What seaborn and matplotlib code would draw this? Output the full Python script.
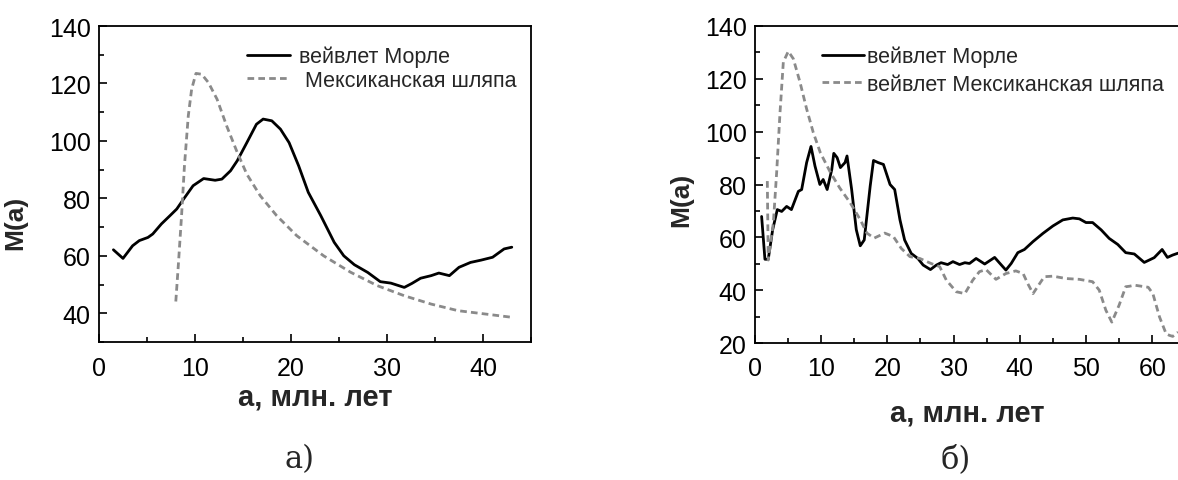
import numpy as np
import pandas as pd
import matplotlib
matplotlib.use("Agg")
import matplotlib.pyplot as plt
from matplotlib.ticker import MultipleLocator
import seaborn as sns

# ---- data: left panel (а) ----
a_morlet_x = [1.5, 2.5, 3.5, 4.2, 5.1, 5.6, 6.5, 7.4, 8.1, 8.8, 9.8, 10.9, 12.1, 12.8, 13.7,
              14.4, 15.4, 16.4, 17.1, 18.0, 18.9, 19.8, 20.8, 21.8, 23.1, 24.5, 25.5, 26.6,
              28.0, 29.3, 30.4, 31.8, 32.6, 33.5, 34.6, 35.4, 36.5, 37.5, 38.7, 39.8, 41.0,
              42.2, 43.0]
a_morlet_y = [62.1, 59.1, 63.5, 65.3, 66.4, 67.6, 71.1, 74.0, 76.3, 79.7, 84.4, 86.9, 86.3,
              86.7, 89.6, 93.1, 99.4, 105.8, 107.6, 107.0, 104.1, 99.4, 91.3, 82.1, 74.0,
              64.7, 60.0, 56.9, 54.2, 51.0, 50.5, 49.0, 50.4, 52.2, 53.1, 54.0, 53.1, 56.0,
              57.7, 58.5, 59.5, 62.4, 63.0]
a_mhat_x = [8.0, 8.26, 8.6, 8.9, 9.3, 9.65, 10.1, 10.7, 11.4, 12.3, 13.3, 14.4, 15.4, 16.8,
            18.5, 20.6, 23.4, 26.2, 29.0, 31.8, 34.6, 37.4, 40.1, 43.0]
a_mhat_y = [44.1, 56.6, 74.0, 91.3, 108.7, 118.0, 123.5, 123.2, 120.3, 114.5, 105.2, 96.0,
            88.4, 80.9, 74.0, 67.0, 60.0, 54.3, 49.6, 46.1, 43.2, 40.9, 39.8, 38.6]

# ---- data: right panel (б) ----
b_morlet_x = [1.0, 1.5, 2.0, 2.67, 3.37, 4.03, 4.78, 5.5, 6.55, 7.05, 7.8, 8.46, 9.06, 9.8,
              10.3, 10.9, 11.6, 11.9, 12.4, 12.9, 13.6, 13.9, 14.6, 15.3, 15.9, 16.5, 17.4,
              17.9, 18.6, 19.4, 20.4, 21.1, 21.9, 22.6, 23.6, 24.6, 25.4, 26.5, 27.4, 28.1,
              29.1, 29.9, 30.9, 31.7, 32.4, 33.4, 34.7, 36.2, 36.9, 37.9, 38.7, 39.7, 40.7,
              42.0, 43.5, 45.0, 46.5, 48.0, 49.0, 50.0, 51.0, 52.3, 53.5, 54.8, 56.0, 57.3,
              58.8, 60.3, 61.5, 62.3, 63.1, 63.9]
b_morlet_y = [67.9, 51.7, 51.7, 62.9, 70.5, 69.8, 71.7, 70.5, 77.4, 78.1, 88.3, 94.4, 87.0,
              80.0, 81.9, 78.1, 85.7, 91.8, 90.2, 86.4, 88.3, 90.8, 78.1, 62.9, 56.8, 59.0,
              79.4, 89.1, 88.3, 87.6, 80.0, 78.1, 66.6, 59.0, 53.9, 52.0, 49.5, 47.8, 49.5,
              50.4, 49.7, 50.8, 49.7, 50.4, 50.1, 52.0, 49.9, 52.4, 50.4, 47.6, 50.1, 54.2,
              55.4, 58.4, 61.5, 64.3, 66.6, 67.3, 67.0, 65.6, 65.6, 62.8, 59.6, 57.3, 54.2,
              53.7, 50.5, 52.3, 55.4, 52.4, 53.3, 54.0]
b_mhat_x = [1.86, 2.0, 2.77, 3.27, 3.78, 4.28, 5.03, 5.79, 6.8, 7.8, 8.8, 9.86, 11.4, 12.8,
            14.4, 15.9, 16.9, 18.0, 19.6, 20.9, 22.1, 23.4, 24.9, 26.6, 27.9, 28.9, 30.4,
            31.7, 32.9, 33.9, 34.9, 36.4, 37.9, 39.4, 40.5, 41.2, 42.0, 43.0, 43.7, 45.0,
            47.0, 49.0, 51.0, 52.0, 53.0, 53.9, 55.0, 56.0, 56.6, 57.3, 59.4, 60.1, 61.1,
            62.1, 62.6, 63.1, 63.9]
b_mhat_y = [81.3, 51.4, 65.4, 84.5, 107.3, 126.4, 130.4, 127.6, 118.7, 108.6, 99.7, 92.1,
            84.5, 78.7, 73.0, 66.7, 61.6, 59.7, 61.6, 60.3, 55.8, 52.7, 52.0, 50.1, 48.9,
            43.8, 39.4, 38.7, 43.8, 47.0, 47.8, 44.1, 46.3, 47.3, 46.3, 42.5, 38.7, 42.5,
            45.1, 45.3, 44.4, 44.1, 43.2, 40.0, 32.4, 27.9, 34.3, 41.3, 41.5, 41.9, 41.1,
            38.7, 29.9, 23.5, 22.9, 22.5, 24.1]

label_morlet = "вейвлет Морле"
label_mhat_a = " Мексиканская шляпа"
label_mhat_b = "вейвлет Мексиканская шляпа"
xlabel = "a, млн. лет"
ylabel = "M(a)"
captions = ["а)", "б)"]

sns.set_theme(style="white")
plt.rcParams["font.family"] = ["Liberation Sans", "DejaVu Sans"]

W, H = 1178, 481
fig = plt.figure(figsize=(W / 100, H / 100), dpi=100)

def px_axes(l, r, t, b):
    return fig.add_axes([l / W, 1 - b / H, (r - l) / W, (b - t) / H])

ax1 = px_axes(99, 531, 27, 343)
ax2 = px_axes(755, 1180, 27, 344)

GRAY = "#8a8a8a"
LW = 2.0
DASH = (2.4, 1.5)

def draw(ax, xm, ym, xh, yh, lab_m, lab_h):
    sns.lineplot(x=xm, y=ym, ax=ax, color="black", lw=LW, sort=False,
                 estimator=None, label=lab_m)
    sns.lineplot(x=xh, y=yh, ax=ax, color=GRAY, lw=LW, sort=False,
                 estimator=None, label=lab_h)
    ax.lines[-1].set_dashes(DASH)
    for sp in ax.spines.values():
        sp.set_color("black")
        sp.set_linewidth(1.3)
    ax.tick_params(which="both", direction="in", left=True, bottom=True,
                   top=False, right=False, colors="black", labelsize=18, width=1.2)
    ax.tick_params(which="major", length=6)
    ax.tick_params(which="minor", length=3.5)
    ax.tick_params(axis="y", pad=6)
    ax.tick_params(axis="x", pad=10)
    ax.set_xlabel(xlabel, fontsize=21, fontweight="bold")
    ax.set_ylabel(ylabel, fontsize=19, fontweight="bold")
    ax.grid(False)

draw(ax1, a_morlet_x, a_morlet_y, a_mhat_x, a_mhat_y, label_morlet, label_mhat_a)
ax1.set_xlim(0, 45)
ax1.set_ylim(30, 140)
ax1.xaxis.set_major_locator(MultipleLocator(10))
ax1.xaxis.set_minor_locator(MultipleLocator(5))
ax1.yaxis.set_minor_locator(MultipleLocator(10))
ax1.set_yticks([40, 60, 80, 100, 120, 140])
ax1.xaxis.labelpad = 2
ax1.yaxis.set_label_coords(-0.167, 0.38)
ax1.legend(loc="upper left", bbox_to_anchor=((247 - 99) / 432, (343 - 47) / 316),
           frameon=False, fontsize=15.5, handlelength=2.0, handletextpad=0.4,
           labelspacing=0.1, borderpad=0, borderaxespad=0)

draw(ax2, b_morlet_x, b_morlet_y, b_mhat_x, b_mhat_y, label_morlet, label_mhat_b)
ax2.set_xlim(0, 64.2)
ax2.set_ylim(20, 140)
ax2.xaxis.set_major_locator(MultipleLocator(10))
ax2.xaxis.set_minor_locator(MultipleLocator(5))
ax2.yaxis.set_major_locator(MultipleLocator(20))
ax2.yaxis.set_minor_locator(MultipleLocator(10))
ax2.tick_params(axis="x", pad=9)
ax2.xaxis.labelpad = 14
ax2.yaxis.set_label_coords(-0.146, 0.454)
ax2.legend(loc="upper left", bbox_to_anchor=((822 - 755) / 425, (344 - 47) / 317),
           frameon=False, fontsize=15.5, handlelength=1.95, handletextpad=0.12,
           labelspacing=0.28, borderpad=0, borderaxespad=0)

fig.text(299 / W, 1 - 460 / H, captions[0], ha="center", va="center",
         fontsize=22, family="DejaVu Serif", fontweight="light")
fig.text(956 / W, 1 - 460 / H, captions[1], ha="center", va="center",
         fontsize=22, family="DejaVu Serif", fontweight="light")

fig.savefig("out.png", dpi=100)
